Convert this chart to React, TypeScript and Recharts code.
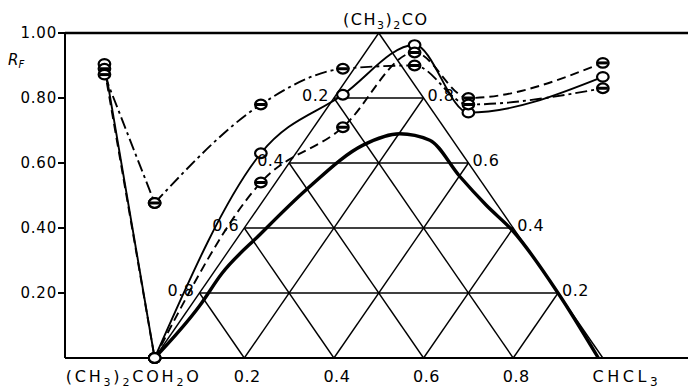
import React from 'react';
import { ComposedChart, Line, Scatter, XAxis, YAxis, ReferenceLine } from 'recharts';

const FONT = '"DejaVu Sans", sans-serif';

// triangle (ternary) grid levels and axis ticks
const gridLevels = [0.2, 0.4, 0.6, 0.8];
const baseTicks = [0, 0.2, 0.4, 0.6, 0.8, 1];
const rfTicks = [0.2, 0.4, 0.6, 0.8, 1.0];

// x position of the pure solvent column and of the mixture columns
const pureX = -0.112;
const mixX = [0, 0.237, 0.42, 0.58, 0.7, 1.0];

// Rf values per curve
const solidPure = 0.905;
const solidRf = [0, 0.63, 0.81, 0.963, 0.755, 0.865];
const dashedPure = 0.89;
const dashedRf = [0, 0.54, 0.71, 0.94, 0.8, 0.908];
const dashDotPure = 0.872;
const dashDotRf = [0.477, 0.78, 0.89, 0.9, 0.78, 0.83];

// heavy boundary curve, no markers
const heavyX = [0, 0.1, 0.15, 0.235, 0.34, 0.465, 0.547, 0.614, 0.68, 0.74, 0.8, 0.9, 0.99];
const heavyRf = [0, 0.16, 0.26, 0.38, 0.52, 0.655, 0.69, 0.67, 0.56, 0.47, 0.39, 0.2, 0];

const leftBranch = (pure: number, rf: number[]) => [
  { x: pureX, rf: pure },
  { x: mixX[0], rf: rf[0] },
];
const rightBranch = (rf: number[]) => mixX.map((x, i) => ({ x, rf: rf[i] }));
const heavyData = heavyX.map((x, i) => ({ x, rf: heavyRf[i] }));

// grid segments of the triangle
const triangleEdges = [
  [{ x: 0, y: 0 }, { x: 0.5, y: 1 }],
  [{ x: 0.5, y: 1 }, { x: 1, y: 0 }],
];
const horizontals = gridLevels.map((l) => [{ x: l / 2, y: l }, { x: 1 - l / 2, y: l }]);
const upRight = gridLevels.map((a) => [{ x: a, y: 0 }, { x: a + (1 - a) / 2, y: 1 - a }]);
const upLeft = gridLevels.map((a) => [{ x: a, y: 0 }, { x: a / 2, y: a }]);
const segments = [...triangleEdges, ...horizontals, ...upRight, ...upLeft];

const leftLabels = gridLevels.map((l) => ({ x: l / 2, rf: l, text: (1 - l).toFixed(1) }));
const rightLabels = gridLevels.map((l) => ({ x: 1 - l / 2, rf: l, text: l.toFixed(1) }));
const apexLabel = [{ x: 0.5, rf: 1 }];

const makeDot = (barred: boolean) => (props: any) => {
  const { cx, cy, index, payload } = props;
  if (cx == null || cy == null) return <g key={`e-${index}`} />;
  const bar = barred && payload.rf !== 0;
  return (
    <g key={`d-${index}-${Math.round(cx)}`}>
      <ellipse cx={cx} cy={cy} rx={5.8} ry={4.8} fill="#fff" stroke="#000" strokeWidth={2.2} />
      {bar && <line x1={cx - 5} x2={cx + 5} y1={cy} y2={cy} stroke="#000" strokeWidth={3} />}
    </g>
  );
};

const sideLabel = (anchor: 'start' | 'end') => (props: any) => {
  const { cx, cy, payload } = props;
  return (
    <text
      x={cx + (anchor === 'end' ? -5 : 4)}
      y={cy + 3}
      textAnchor={anchor}
      fontFamily={FONT}
      fontSize={16}
      letterSpacing={0.5}
      fill="#000"
    >
      {payload.text}
    </text>
  );
};

const apexShape = (props: any) => (
  <text x={props.cx + 7} y={props.cy - 8} textAnchor="middle" fontFamily={FONT} fontSize={16} letterSpacing={1.5} fill="#000">
    (CH<tspan fontSize={11} dy={4}>3</tspan>
    <tspan dy={-4}>)</tspan>
    <tspan fontSize={11} dy={4}>2</tspan>
    <tspan dy={-4}>CO</tspan>
  </text>
);

const XTick = (props: any) => {
  const { x, y, payload } = props;
  const v = payload.value;
  const common = { fontFamily: FONT, fontSize: 16, fill: '#000', textAnchor: 'middle' as const };
  if (v === 0) {
    return (
      <text x={x - 21} y={y + 16} {...common} letterSpacing={2.8}>
        (CH<tspan fontSize={11} dy={4}>3</tspan>
        <tspan dy={-4}>)</tspan>
        <tspan fontSize={11} dy={4}>2</tspan>
        <tspan dy={-4}>COH</tspan>
        <tspan fontSize={11} dy={4}>2</tspan>
        <tspan dy={-4}>O</tspan>
      </text>
    );
  }
  if (v === 1) {
    return (
      <text x={x + 24} y={y + 16} {...common} letterSpacing={3.5}>
        CHCL<tspan fontSize={12} dy={4}>3</tspan>
      </text>
    );
  }
  return (
    <text x={x + 3} y={y + 16} {...common} letterSpacing={0.5}>
      {v.toFixed(1)}
    </text>
  );
};

const RfLabel = (props: any) => {
  const vb = props.viewBox || { x: 0, y: 33 };
  return (
    <text x={vb.x + 8} y={vb.y + 32} fontFamily={FONT} fontSize={15} fontStyle="italic" fill="#000">
      R<tspan fontSize={10} dy={3}>F</tspan>
    </text>
  );
};

const dashLine = { stroke: '#000', strokeWidth: 1.9, type: 'monotone' as const, isAnimationActive: false };

export default function App() {
  return (
    <div style={{ position: 'absolute', left: 0, top: 0, background: '#fff' }}>
      <ComposedChart width={688} height={388} margin={{ top: 33, right: 0, bottom: 0, left: 0 }}>
        <XAxis
          dataKey="x"
          type="number"
          domain={[-0.2, 1.19]}
          ticks={baseTicks}
          allowDataOverflow
          height={30}
          tickLine={false}
          tickSize={6}
          tickMargin={2}
          axisLine={{ stroke: '#000', strokeWidth: 2 }}
          tick={<XTick />}
        />
        <YAxis
          type="number"
          domain={[0, 1]}
          ticks={rfTicks}
          width={65}
          tickSize={7}
          tickMargin={1}
          tickFormatter={(v: number) => v.toFixed(2)}
          axisLine={{ stroke: '#000', strokeWidth: 2 }}
          tickLine={{ stroke: '#000', strokeWidth: 2 }}
          tick={{ fill: '#000', fontSize: 15, fontFamily: FONT, letterSpacing: 0.8 }}
          label={{ content: <RfLabel /> }}
        />
        <ReferenceLine y={1} stroke="#000" strokeWidth={2.5} ifOverflow="visible" />
        {segments.map((s, i) => (
          <ReferenceLine key={`seg-${i}`} segment={s} stroke="#000" strokeWidth={1.4} ifOverflow="visible" />
        ))}

        <Line data={heavyData} dataKey="rf" type="monotone" stroke="#000" strokeWidth={3.4} dot={false} isAnimationActive={false} />

        <Line data={leftBranch(solidPure, solidRf)} dataKey="rf" {...dashLine} dot={makeDot(false)} />
        <Line data={rightBranch(solidRf)} dataKey="rf" {...dashLine} dot={makeDot(false)} />

        <Line data={leftBranch(dashedPure, dashedRf)} dataKey="rf" {...dashLine} strokeDasharray="9 5" dot={makeDot(true)} />
        <Line data={rightBranch(dashedRf)} dataKey="rf" {...dashLine} strokeDasharray="9 5" dot={makeDot(true)} />

        <Line data={leftBranch(dashDotPure, dashDotRf)} dataKey="rf" {...dashLine} strokeDasharray="12 4 3 4" dot={makeDot(true)} />
        <Line data={rightBranch(dashDotRf)} dataKey="rf" {...dashLine} strokeDasharray="12 4 3 4" dot={makeDot(true)} />

        <Scatter data={leftLabels} dataKey="rf" shape={sideLabel('end')} isAnimationActive={false} />
        <Scatter data={rightLabels} dataKey="rf" shape={sideLabel('start')} isAnimationActive={false} />
        <Scatter data={apexLabel} dataKey="rf" shape={apexShape} isAnimationActive={false} />
      </ComposedChart>
    </div>
  );
}
